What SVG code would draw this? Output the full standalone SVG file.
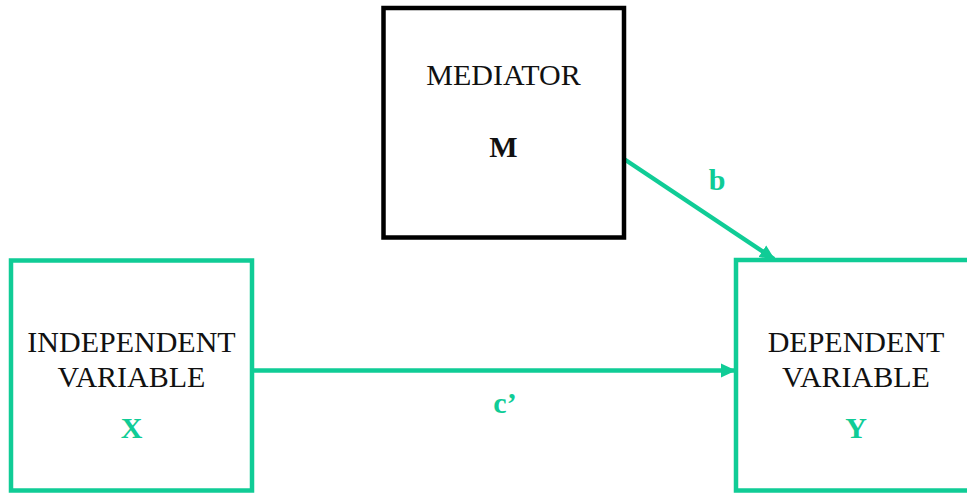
<svg xmlns="http://www.w3.org/2000/svg" width="967" height="494" viewBox="0 0 967 494">
<style>
.box{fill:#fff;stroke-width:4.5}
.k{stroke:#000}
.g{stroke:#10cc96}
.t{font-family:"Liberation Serif","Times New Roman",serif;font-size:30px;fill:#111;text-anchor:middle}
.b{font-weight:bold}
.gt{fill:#10cc96}
.con{stroke:#10cc96;stroke-width:4.5;fill:none}
</style>
<defs>
<marker id="ah" markerUnits="userSpaceOnUse" markerWidth="16" markerHeight="16" viewBox="0 0 16 16" refX="14" refY="8" orient="auto">
<path d="M0,1 L15,8 L0,15 Z" fill="#10cc96"/>
</marker>
</defs>
<rect width="967" height="494" fill="#fff"/>
<g id="connectors">
<line class="con" x1="252" y1="370.5" x2="735" y2="370.5" marker-end="url(#ah)"/>
<line class="con" x1="624" y1="159" x2="774" y2="259" marker-end="url(#ah)"/>
<text class="t b gt" x="505" y="413">c’</text>
<text class="t b gt" x="717" y="190">b</text>
</g>
<g id="mediator">
<rect class="box k" x="383.5" y="8" width="240.5" height="229.5"/>
<text class="t" x="503.5" y="85">MEDIATOR</text>
<text class="t b" x="503.5" y="157">M</text>
</g>
<g id="independent">
<rect class="box g" x="11" y="260.5" width="241" height="230"/>
<text class="t" x="131.5" y="352">INDEPENDENT</text>
<text class="t" x="131.5" y="387">VARIABLE</text>
<text class="t b gt" x="131.5" y="438">X</text>
</g>
<g id="dependent">
<rect class="box g" x="736" y="260" width="240" height="230.5"/>
<text class="t" x="856" y="352">DEPENDENT</text>
<text class="t" x="856" y="387">VARIABLE</text>
<text class="t b gt" x="856" y="438">Y</text>
</g>
</svg>
